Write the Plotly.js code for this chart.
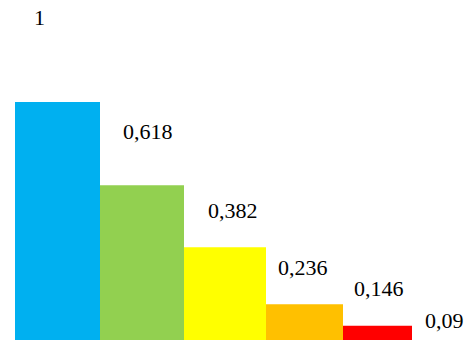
<!DOCTYPE html>
<html>
<head>
<meta charset="utf-8">
<script src="https://cdn.plot.ly/plotly-3.0.1.min.js"></script>
<style>html,body{margin:0;padding:0;background:#fff;}#chart{width:467px;height:340px;}</style>
</head>
<body>
<div id="chart"></div>
<script>
// Data
const categories = ["1", "0,618", "0,382", "0,236", "0,146"];
const barValues = [1, 0.65, 0.39, 0.15, 0.06];          // bar heights as drawn (relative to the first bar)
const labelTexts = ["1", "0,618", "0,382", "0,236", "0,146", "0,09"];

// Style / layout constants
const barColors = ["#00B0F0", "#92D050", "#FFFF00", "#FFC000", "#FF0000"];
const barEdges = [15, 100, 184, 266, 343, 412];         // x pixel edges of the bars
const labelPos = [[39, 17], [147.5, 131], [233, 210], [302.5, 267.5], [379, 288], [444, 320.5]];

const W = 467, H = 340;
const centers = barValues.map((_, i) => (barEdges[i] + barEdges[i + 1]) / 2);
const widths = barValues.map((_, i) => barEdges[i + 1] - barEdges[i]);

const trace = {
  type: "bar",
  x: centers,
  y: barValues,
  width: widths,
  text: categories,
  textposition: "none",
  hoverinfo: "none",
  marker: { color: barColors, line: { width: 0 } }
};

const annotations = labelTexts.map((t, i) => ({
  text: t,
  xref: "x", yref: "paper",
  x: labelPos[i][0], y: 1 - labelPos[i][1] / H,
  xanchor: "center", yanchor: "middle",
  showarrow: false,
  font: { family: "Liberation Serif, Times New Roman, serif", size: 22, color: "#000" }
}));

const layout = {
  width: W, height: H,
  margin: { l: 0, r: 0, t: 0, b: 0, pad: 0 },
  paper_bgcolor: "#fff", plot_bgcolor: "#fff",
  showlegend: false,
  xaxis: { range: [0, W], visible: false, fixedrange: true },
  yaxis: { range: [0, H / 238], visible: false, fixedrange: true },
  annotations: annotations
};

Plotly.newPlot("chart", [trace], layout, { displayModeBar: false, staticPlot: true });
</script>
</body>
</html>
